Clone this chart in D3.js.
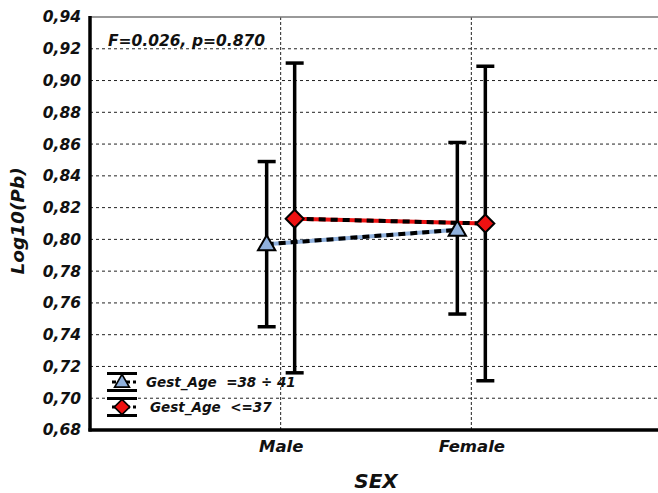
<!DOCTYPE html>
<html>
<head>
<meta charset="utf-8">
<script src="https://cdn.jsdelivr.net/npm/d3@7"></script>
<style>
  body { margin: 0; background: #fff; }
  text { font-family: "DejaVu Sans", Verdana, sans-serif; font-weight: bold; font-style: italic; fill: #111; }
</style>
</head>
<body>
<svg id="chart" width="658" height="493" viewBox="0 0 658 493"></svg>
<script>
// Data
const categories = ["Male", "Female"];
const groups = ["Gest_Age  =38 ÷ 41", "Gest_Age  <=37"];
const means = [[0.797, 0.806], [0.813, 0.810]];
const upper = [[0.849, 0.861], [0.911, 0.909]];
const lower = [[0.745, 0.753], [0.716, 0.711]];
const yTicks = [0.68, 0.70, 0.72, 0.74, 0.76, 0.78, 0.80, 0.82, 0.84, 0.86, 0.88, 0.90, 0.92, 0.94];
const annotation = "F=0.026, p=0.870";

const svg = d3.select("#chart");
const margin = { left: 90, top: 17, right: -4, bottom: 63 };
const width = 658 - margin.left - margin.right;
const height = 493 - margin.top - margin.bottom;
const g = svg.append("g").attr("transform", `translate(${margin.left},${margin.top})`);

const x = d3.scalePoint().domain(categories).range([0, width]).padding(1);
const y = d3.scaleLinear().domain([0.68, 0.94]).range([height, 0]);
const offset = [-14, 14];
const fills = ["#8fb0dc", "#ee1111"];

// grid
g.append("g").selectAll("line").data(yTicks.slice(1, -1)).enter().append("line")
    .attr("x1", 0).attr("x2", width)
    .attr("y1", d => y(d)).attr("y2", d => y(d))
    .attr("stroke", "#222").attr("stroke-width", 1).attr("stroke-dasharray", "3,3");
g.append("g").selectAll("line").data(categories).enter().append("line")
    .attr("x1", d => x(d)).attr("x2", d => x(d))
    .attr("y1", 0).attr("y2", height)
    .attr("stroke", "#222").attr("stroke-width", 1).attr("stroke-dasharray", "3,2");

// frame
g.append("line").attr("x1", 0).attr("x2", width).attr("y1", 0).attr("y2", 0)
    .attr("stroke", "#777").attr("stroke-width", 1.5);

// y axis
const yAxis = g.append("g").call(d3.axisLeft(y).tickValues(yTicks).tickSize(0).tickPadding(9)
    .tickFormat(d => d3.format(".2f")(d).replace(".", ",")));
yAxis.select(".domain").remove();
yAxis.selectAll("text").attr("font-size", 15.5).attr("font-family", null).attr("fill", null);

// x axis
const xAxis = g.append("g").attr("transform", `translate(0,${height})`)
    .call(d3.axisBottom(x).tickSize(0).tickPadding(10));
xAxis.select(".domain").remove();
xAxis.selectAll("text").attr("font-size", 16.5).attr("font-family", null).attr("fill", null);

g.append("line").attr("x1", 0).attr("x2", 0).attr("y1", -1).attr("y2", height + 1.5)
    .attr("stroke", "#000").attr("stroke-width", 3.5);
g.append("line").attr("x1", -1.5).attr("x2", width).attr("y1", height).attr("y2", height)
    .attr("stroke", "#000").attr("stroke-width", 3.5);

// series lines
groups.forEach((grp, i) => {
    const pts = categories.map((c, j) => [x(c) + offset[i], y(means[i][j])]);
    g.append("path").attr("d", d3.line()(pts)).attr("fill", "none")
        .attr("stroke", fills[i]).attr("stroke-width", 4);
    g.append("path").attr("d", d3.line()(pts)).attr("fill", "none")
        .attr("stroke", "#000").attr("stroke-width", 4).attr("stroke-dasharray", "7,5");
});

// error bars
const cap = 9;
groups.forEach((grp, i) => {
    categories.forEach((c, j) => {
        const cx = x(c) + offset[i];
        g.append("line").attr("x1", cx).attr("x2", cx)
            .attr("y1", y(upper[i][j])).attr("y2", y(lower[i][j]))
            .attr("stroke", "#000").attr("stroke-width", 3.5);
        [upper[i][j], lower[i][j]].forEach(v => {
            g.append("line").attr("x1", cx - cap).attr("x2", cx + cap)
                .attr("y1", y(v)).attr("y2", y(v))
                .attr("stroke", "#000").attr("stroke-width", 3.5);
        });
    });
});

// markers
const triangle = d3.symbol().type(d3.symbolTriangle).size(130);
const diamond = "M0,-9L9,0L0,9L-9,0Z";
function marker(sel, i) {
    sel.append("path").attr("d", i === 0 ? triangle() : diamond)
        .attr("fill", fills[i]).attr("stroke", "#000").attr("stroke-width", 2);
}
groups.forEach((grp, i) => {
    categories.forEach((c, j) => {
        const m = g.append("g").attr("transform", `translate(${x(c) + offset[i]},${y(means[i][j]) + (i === 0 ? 1 : 0)})`);
        marker(m, i);
    });
});

// annotation
g.append("text").attr("x", 18).attr("y", 28.5).attr("font-size", 15.5).text(annotation);

// legend
const legend = g.append("g").attr("transform", "translate(32, 365)");
groups.forEach((grp, i) => {
    const row = legend.append("g").attr("transform", `translate(0,${i * 25})`);
    row.append("line").attr("x1", -10).attr("x2", 14).attr("y1", 0).attr("y2", 0)
        .attr("stroke", "#000").attr("stroke-width", 3).attr("stroke-dasharray", "4,3");
    [-8.5, 8.5].forEach(dy => row.append("line").attr("x1", -15).attr("x2", 15).attr("y1", dy).attr("y2", dy)
        .attr("stroke", "#000").attr("stroke-width", 3));
    const m = row.append("g").attr("transform", `scale(0.85)translate(0,${i === 0 ? 1 : 0})`);
    marker(m, i);
    row.append("text").attr("x", 24 + i * 4).attr("y", 5.3).attr("font-size", 13.5)
        .style("white-space", "pre").text(grp);
});

// axis titles
svg.append("text").attr("transform", "translate(24,221)rotate(-90)")
    .attr("text-anchor", "middle").attr("font-size", 18.5).text("Log10(Pb)");
svg.append("text").attr("x", 376).attr("y", 488)
    .attr("text-anchor", "middle").attr("font-size", 20).text("SEX");
</script>
</body>
</html>
